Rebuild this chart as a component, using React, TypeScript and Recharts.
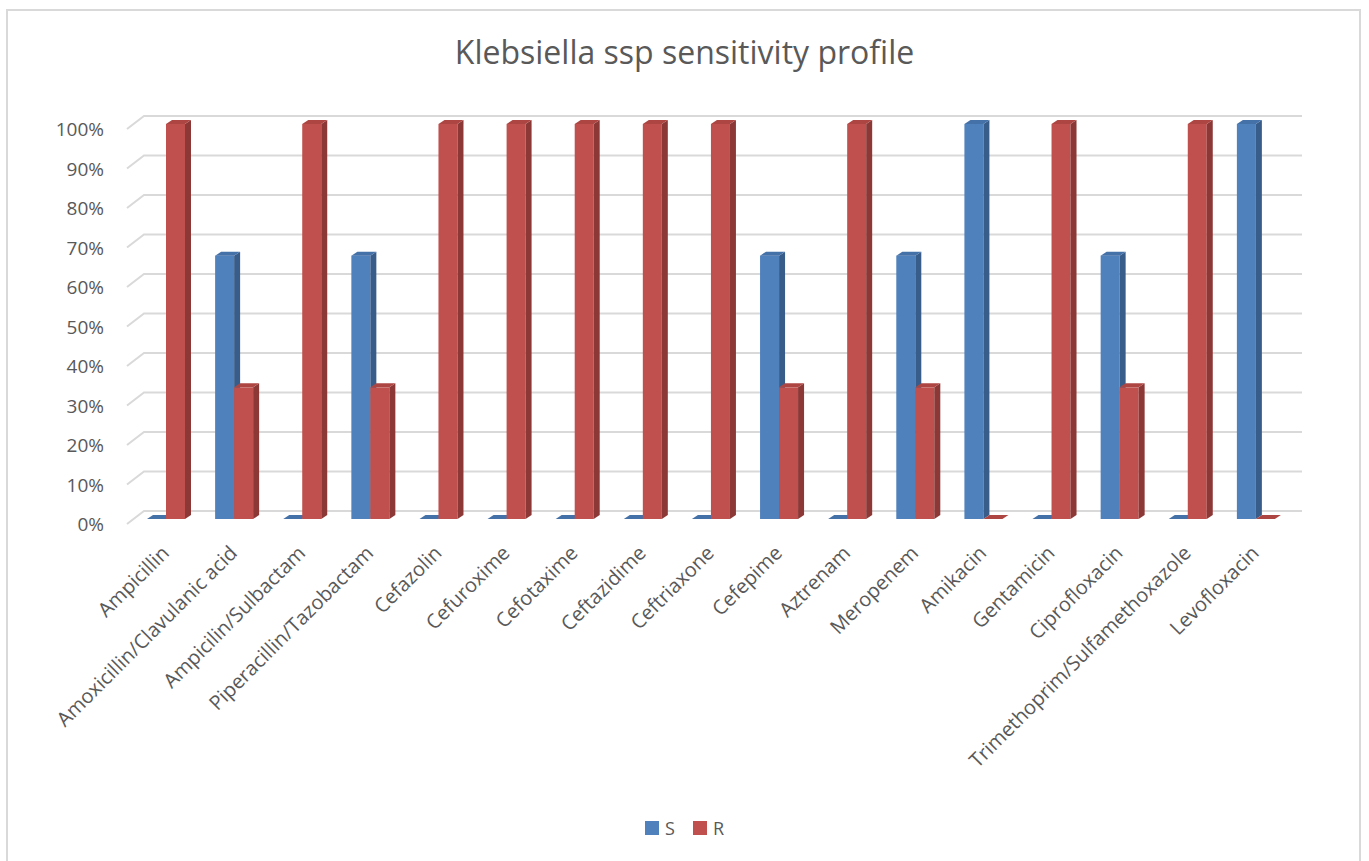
import { BarChart, Bar, XAxis, YAxis, CartesianGrid } from 'recharts';

// ---- data ----
const DRUGS = [
  'Ampicillin',
  'Amoxicillin/Clavulanic acid',
  'Ampicilin/Sulbactam',
  'Piperacillin/Tazobactam',
  'Cefazolin',
  'Cefuroxime',
  'Cefotaxime',
  'Ceftazidime',
  'Ceftriaxone',
  'Cefepime',
  'Aztrenam',
  'Meropenem',
  'Amikacin',
  'Gentamicin',
  'Ciprofloxacin',
  'Trimethoprim/Sulfamethoxazole',
  'Levofloxacin',
];
const SENSITIVE = [0, 66.67, 0, 66.67, 0, 0, 0, 0, 0, 66.67, 0, 66.67, 100, 0, 66.67, 0, 100];
const RESISTANT = [100, 33.33, 100, 33.33, 100, 100, 100, 100, 100, 33.33, 100, 33.33, 0, 100, 33.33, 100, 0];
const PCT_TICKS = [0, 10, 20, 30, 40, 50, 60, 70, 80, 90, 100];

const rows = DRUGS.map((name, i) => ({ name, S: SENSITIVE[i], R: RESISTANT[i] }));

const FONT = '"Open Sans", sans-serif';
const TEXT = '#595959';
const GRID = '#d9d9d9';

// depth of the fake 3d boxes
const DX = 6;
const DY = 4;

const BLUE = { front: '#4f81bd', side: '#385d8a', top: '#4471a8' };
const RED = { front: '#c0504d', side: '#8c3836', top: '#ad4643' };

function Box3D(props: any) {
  const { x, y, width, height, colors } = props;
  const h = Math.max(0, height || 0);
  const r = x + width;
  const b = y + h;
  return (
    <g>
      {h > 0 && <rect x={x} y={y} width={width} height={h} fill={colors.front} />}
      {h > 0 && (
        <path d={`M${r},${y} L${r + DX},${y - DY} L${r + DX},${b - DY} L${r},${b} Z`} fill={colors.side} />
      )}
      <path d={`M${x},${y} L${r},${y} L${r + DX},${y - DY} L${x + DX},${y - DY} Z`} fill={colors.top} />
    </g>
  );
}

// gridlines drawn as a floor/wall corner: slanted stub on the left, flat line across the back
function GridLine3D(props: any) {
  const { x1, x2, y1 } = props;
  const fy = y1 + 5;
  const by = y1 - 8;
  return (
    <path
      d={`M${x1 - 5},${fy} L${x1 + 12},${by} L${x2 + 12},${by}`}
      fill="none"
      stroke={GRID}
      strokeWidth={2}
    />
  );
}

function PctTick(props: any) {
  const { y, payload } = props;
  return (
    <text x={104} y={y + 5} textAnchor="end" dominantBaseline="central" fill={TEXT} fontSize={19} fontFamily={FONT}>
      {payload.value}%
    </text>
  );
}

function DrugTick(props: any) {
  const { x, y, payload } = props;
  const ax = x - 1;
  const ay = y + 22;
  return (
    <text
      x={ax}
      y={ay}
      textAnchor="end"
      dominantBaseline="central"
      transform={`rotate(-45 ${ax} ${ay})`}
      fill={TEXT}
      fontSize={20}
      fontFamily={FONT}
    >
      {payload.value}
    </text>
  );
}

export default function App() {
  return (
    <div style={{ position: 'absolute', left: 0, top: 0, width: 1369, height: 861, background: '#fff', overflow: 'hidden' }}>
      <div
        style={{
          position: 'absolute',
          left: 6,
          top: 9,
          width: 1355,
          height: 880,
          border: '2px solid #d9d9d9',
          boxSizing: 'border-box',
        }}
      />
      <div
        style={{
          position: 'absolute',
          left: 0,
          width: 1369,
          top: 30,
          textAlign: 'center',
          fontFamily: FONT,
          fontSize: 32,
          color: TEXT,
        }}
      >
        Klebsiella ssp sensitivity profile
      </div>
      <div style={{ position: 'absolute', left: 0, top: 0 }}>
        <BarChart
          width={1369}
          height={861}
          data={rows}
          margin={{ top: 124, right: 79, left: 72, bottom: 312 }}
          barSize={19}
          barGap={0}
        >
          <CartesianGrid vertical={false} horizontal={(p: any) => <GridLine3D key={p.key} {...p} />} />
          <YAxis
            width={60}
            domain={[0, 100]}
            ticks={PCT_TICKS}
            axisLine={false}
            tickLine={false}
            tick={<PctTick />}
          />
          <XAxis
            dataKey="name"
            height={30}
            interval={0}
            axisLine={false}
            tickLine={false}
            tick={<DrugTick />}
          />
          <Bar dataKey="S" isAnimationActive={false} shape={(p: any) => <Box3D {...p} colors={BLUE} />} />
          <Bar dataKey="R" isAnimationActive={false} shape={(p: any) => <Box3D {...p} colors={RED} />} />
        </BarChart>
      </div>
      <div
        style={{
          position: 'absolute',
          left: 0,
          width: 1369,
          top: 816,
          display: 'flex',
          justifyContent: 'center',
          alignItems: 'center',
          fontFamily: FONT,
          fontSize: 18,
          color: TEXT,
        }}
      >
        <span style={{ width: 14, height: 14, background: BLUE.front, marginRight: 6 }} />
        <span style={{ marginRight: 18 }}>S</span>
        <span style={{ width: 14, height: 14, background: RED.front, marginRight: 6 }} />
        <span>R</span>
      </div>
    </div>
  );
}
